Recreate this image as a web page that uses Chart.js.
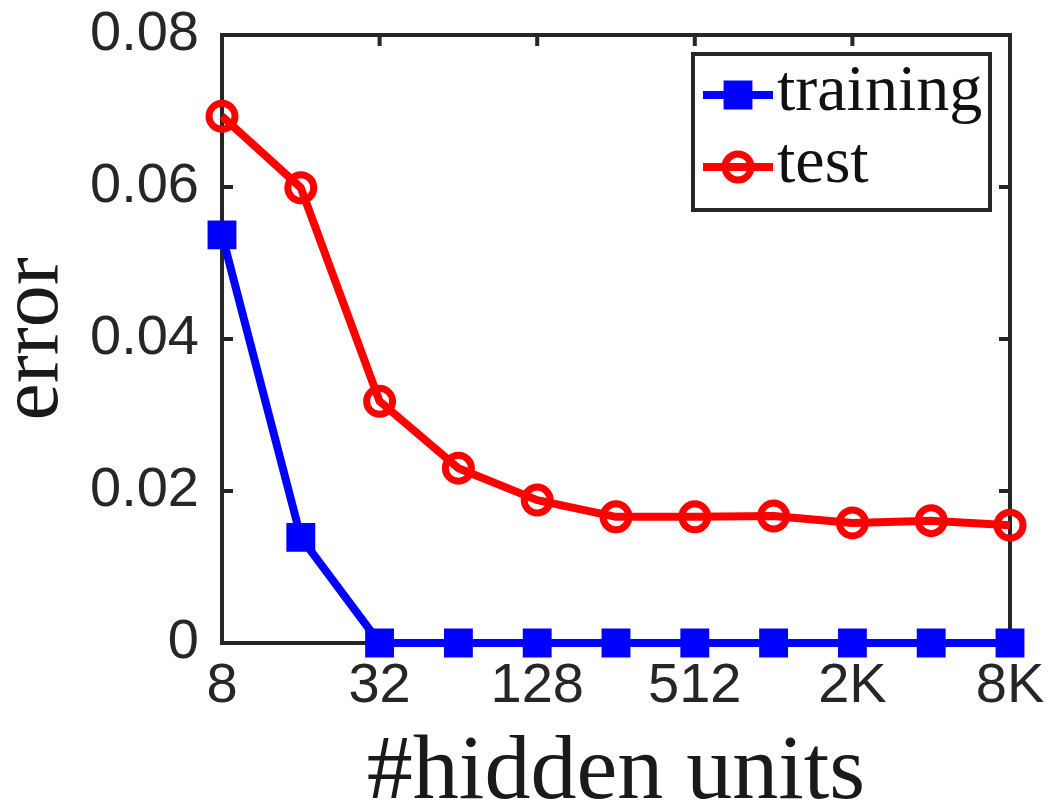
<!DOCTYPE html>
<html>
<head>
<meta charset="utf-8">
<script src="https://cdn.jsdelivr.net/npm/chart.js@4/dist/chart.umd.min.js"></script>
<style>
  html, body { margin: 0; padding: 0; background: #ffffff; }
  #wrap { width: 1047px; height: 807px; position: relative; }
</style>
</head>
<body>
<div id="wrap"><canvas id="chart"></canvas></div>
<script>
// Network widths (number of hidden units), one per point
const hiddenUnits = ['8', '16', '32', '64', '128', '256', '512', '1K', '2K', '4K', '8K'];
// Widths that get a tick and label on the x axis
const xTickLabels = ['8', '32', '128', '512', '2K', '8K'];
// Error rates
const trainingError = [0.0537, 0.0139, 0, 0, 0, 0, 0, 0, 0, 0, 0];
const testError = [0.0693, 0.0599, 0.0318, 0.0230, 0.0188, 0.0166, 0.0166, 0.0167, 0.0158, 0.0161, 0.0155];
// y axis range and step
const yMin = 0, yMax = 0.08, yStep = 0.02;

const AXIS_COLOR = '#262626';
const SANS = "'Liberation Sans', Arial, Helvetica, sans-serif";
const SERIF = "'Liberation Serif', 'Times New Roman', serif";

// Fixed scale sizes; label overhang padding is dropped so the plot box keeps its place
function fixSize(prop, size) {
  return s => {
    s[prop] = size;
    s.paddingTop = 0; s.paddingBottom = 0; s.paddingLeft = 0; s.paddingRight = 0;
  };
}

// Box around the plot area with short inward ticks on all four sides
const boxAxes = {
  id: 'boxAxes',
  beforeDatasetsDraw(chart) {
    const {ctx, chartArea: a, scales} = chart;
    const len = 11;
    ctx.save();
    ctx.strokeStyle = AXIS_COLOR;
    ctx.lineWidth = 4;
    ctx.lineCap = 'butt';
    ctx.beginPath();
    scales.y.ticks.forEach(t => {
      const py = scales.y.getPixelForValue(t.value);
      ctx.moveTo(a.left, py); ctx.lineTo(a.left + len, py);
      ctx.moveTo(a.right, py); ctx.lineTo(a.right - len, py);
    });
    hiddenUnits.forEach((u, i) => {
      if (!xTickLabels.includes(u)) return;
      const px = scales.x.getPixelForValue(i);
      ctx.moveTo(px, a.bottom); ctx.lineTo(px, a.bottom - len);
      ctx.moveTo(px, a.top); ctx.lineTo(px, a.top + len);
    });
    ctx.stroke();
    ctx.strokeRect(a.left, a.top, a.right - a.left, a.bottom - a.top);
    ctx.restore();
  }
};

// Boxed legend in the upper right corner: line sample, marker, label
const boxLegend = {
  id: 'boxLegend',
  afterDatasetsDraw(chart) {
    const {ctx} = chart;
    const box = {x: 693, y: 54, w: 297, h: 156};
    ctx.save();
    ctx.fillStyle = '#ffffff';
    ctx.fillRect(box.x, box.y, box.w, box.h);
    ctx.strokeStyle = AXIS_COLOR;
    ctx.lineWidth = 4;
    ctx.strokeRect(box.x, box.y, box.w, box.h);
    chart.data.datasets.forEach((ds, i) => {
      const cy = 95 + i * 72;
      ctx.strokeStyle = ds.borderColor;
      ctx.lineWidth = ds.borderWidth;
      ctx.beginPath();
      ctx.moveTo(703, cy); ctx.lineTo(773, cy);
      ctx.stroke();
      ctx.fillStyle = ds.pointBackgroundColor;
      ctx.strokeStyle = ds.pointBorderColor;
      ctx.lineWidth = ds.pointBorderWidth;
      Chart.helpers.drawPoint(ctx, {
        pointStyle: ds.pointStyle, rotation: 0,
        radius: ds.pointRadius, borderWidth: ds.pointBorderWidth
      }, 738, cy);
      ctx.fillStyle = '#111111';
      ctx.font = '66px ' + SERIF;
      ctx.textAlign = 'left';
      ctx.textBaseline = 'alphabetic';
      ctx.fillText(ds.label, 777, cy + 15);
    });
    ctx.restore();
  }
};

new Chart(document.getElementById('chart'), {
  type: 'line',
  data: {
    labels: hiddenUnits,
    datasets: [
      {
        label: 'training',
        data: trainingError,
        borderColor: '#0000ff',
        borderWidth: 8,
        borderJoinStyle: 'round',
        pointStyle: 'rect',
        pointRadius: 19,
        pointBorderWidth: 2,
        pointBackgroundColor: '#0000ff',
        pointBorderColor: '#0000ff',
        tension: 0,
        clip: false
      },
      {
        label: 'test',
        data: testError,
        borderColor: '#ff0000',
        borderWidth: 8,
        borderJoinStyle: 'round',
        pointStyle: 'circle',
        pointRadius: 13,
        pointBorderWidth: 7,
        pointBackgroundColor: 'rgba(255,255,255,0)',
        pointBorderColor: '#ff0000',
        tension: 0,
        clip: false
      }
    ]
  },
  options: {
    responsive: true,
    maintainAspectRatio: false,
    animation: false,
    events: [],
    layout: { padding: { top: 35, right: 37, left: 0, bottom: 0 } },
    plugins: {
      legend: { display: false },
      tooltip: { enabled: false }
    },
    scales: {
      x: {
        type: 'category',
        offset: false,
        grid: { display: false, drawTicks: false },
        border: { display: false },
        ticks: {
          autoSkip: false,
          maxRotation: 0,
          padding: 10,
          color: AXIS_COLOR,
          font: { family: SANS, size: 56 },
          callback: (v, i) => xTickLabels.includes(hiddenUnits[i]) ? hiddenUnits[i] : ''
        },
        title: {
          display: true,
          text: '#hidden units',
          color: '#1a1a1a',
          font: { family: SERIF, size: 92, lineHeight: 0.7 },
          padding: { top: 0, bottom: 1 }
        },
        afterFit: fixSize('height', 164)
      },
      y: {
        min: yMin,
        max: yMax,
        grid: { display: false, drawTicks: false },
        border: { display: false },
        ticks: {
          stepSize: yStep,
          padding: 23,
          color: AXIS_COLOR,
          font: { family: SANS, size: 56 },
          callback: v => (Math.abs(v) < 1e-9 ? '0' : v.toFixed(2))
        },
        title: {
          display: true,
          text: 'error',
          color: '#1a1a1a',
          font: { family: SERIF, size: 84, lineHeight: 0.64 },
          padding: { top: 8, bottom: 0 }
        },
        afterFit: fixSize('width', 222)
      }
    }
  },
  plugins: [boxAxes, boxLegend]
});
</script>
</body>
</html>
